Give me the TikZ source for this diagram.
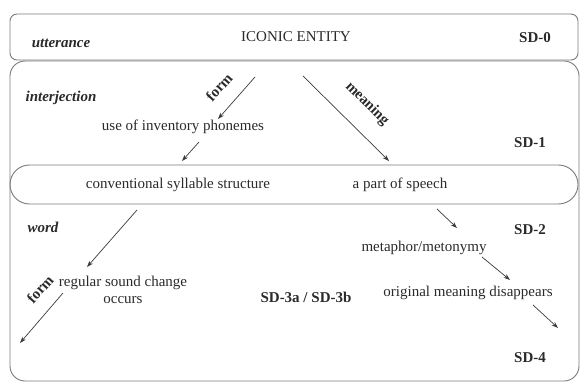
\documentclass[tikz,border=0pt]{standalone}
\usepackage{fontspec}
\setmainfont{Liberation Serif}
\usetikzlibrary{arrows.meta}
\definecolor{boxgray}{HTML}{7A7A7A}
\definecolor{txt}{HTML}{2A2A2A}
\definecolor{arrgray}{HTML}{3A3A3A}
\tikzset{
  boxline/.style={draw=boxgray, line width=0.9pt},
  lbl/.style={text=txt, inner sep=1pt, font=\fontsize{15}{17}\selectfont},
  lvl/.style={lbl, font=\fontsize{15}{17}\selectfont\bfseries\itshape},
  sdl/.style={lbl, font=\fontsize{15}{17}\selectfont\bfseries},
  arr/.style={draw=arrgray, line width=0.7pt, -{Stealth[length=6.5pt,width=4.5pt]}},
}
\begin{document}
\begin{tikzpicture}[x=1pt,y=-1pt]
\useasboundingbox (0,0) rectangle (580,382);
% frames
\draw[boxline, rounded corners=7pt] (10,14) rectangle (578,60);
\draw[boxline, rounded corners=15pt] (10,61) rectangle (579,381);
\draw[boxline, rounded corners=19.5pt] (10,165) rectangle (578,204);
% texts
\node[lvl] (utt) at (61,43) {utterance};
\node[lbl] (ice) at (296,37) {ICONIC ENTITY};
\node[sdl] (sd0) at (535,38) {SD-0};
\node[lvl] (interj) at (61,98) {interjection};
\node[sdl, rotate=48] (form1) at (219,87) {form};
\node[lbl] (use) at (183,127) {use of inventory phonemes};
\node[sdl, rotate=-45] (meaning) at (367,104) {meaning};
\node[sdl] (sd1) at (530,143) {SD-1};
\node[lbl] (conv) at (178,185) {conventional syllable structure};
\node[lbl] (pos) at (400,185) {a part of speech};
\node[lvl] (word) at (43,227) {word};
\node[lbl] (meta) at (424,248) {metaphor/metonymy};
\node[sdl] (sd2) at (530,230) {SD-2};
\node[lbl, align=center] (reg) at (123,290) {regular sound change\\occurs};
\node[sdl, rotate=48] (form2) at (40,289) {form};
\node[sdl] (sd3) at (306,297) {SD-3a / SD-3b};
\node[lbl] (orig) at (468,293) {original meaning disappears};
\node[sdl] (sd4) at (530,358) {SD-4};
% arrow end points
\coordinate (a1s) at (255,77);  \coordinate (a1e) at (218,119);
\coordinate (a2s) at (199,142); \coordinate (a2e) at (182,161);
\coordinate (a3s) at (303,76);  \coordinate (a3e) at (389,161);
\coordinate (a4s) at (437,209); \coordinate (a4e) at (457,228);
\coordinate (a5s) at (137,210); \coordinate (a5e) at (87,267);
\coordinate (a6s) at (63,293);  \coordinate (a6e) at (20,343);
\coordinate (a7s) at (482,257); \coordinate (a7e) at (510,280);
\coordinate (a8s) at (533,305); \coordinate (a8e) at (558,328);
\draw[arr] (a1s) -- (a1e);
\draw[arr] (a2s) -- (a2e);
\draw[arr] (a3s) -- (a3e);
\draw[arr] (a4s) -- (a4e);
\draw[arr] (a5s) -- (a5e);
\draw[arr] (a6s) -- (a6e);
\draw[arr] (a7s) -- (a7e);
\draw[arr] (a8s) -- (a8e);
\end{tikzpicture}
\end{document}
